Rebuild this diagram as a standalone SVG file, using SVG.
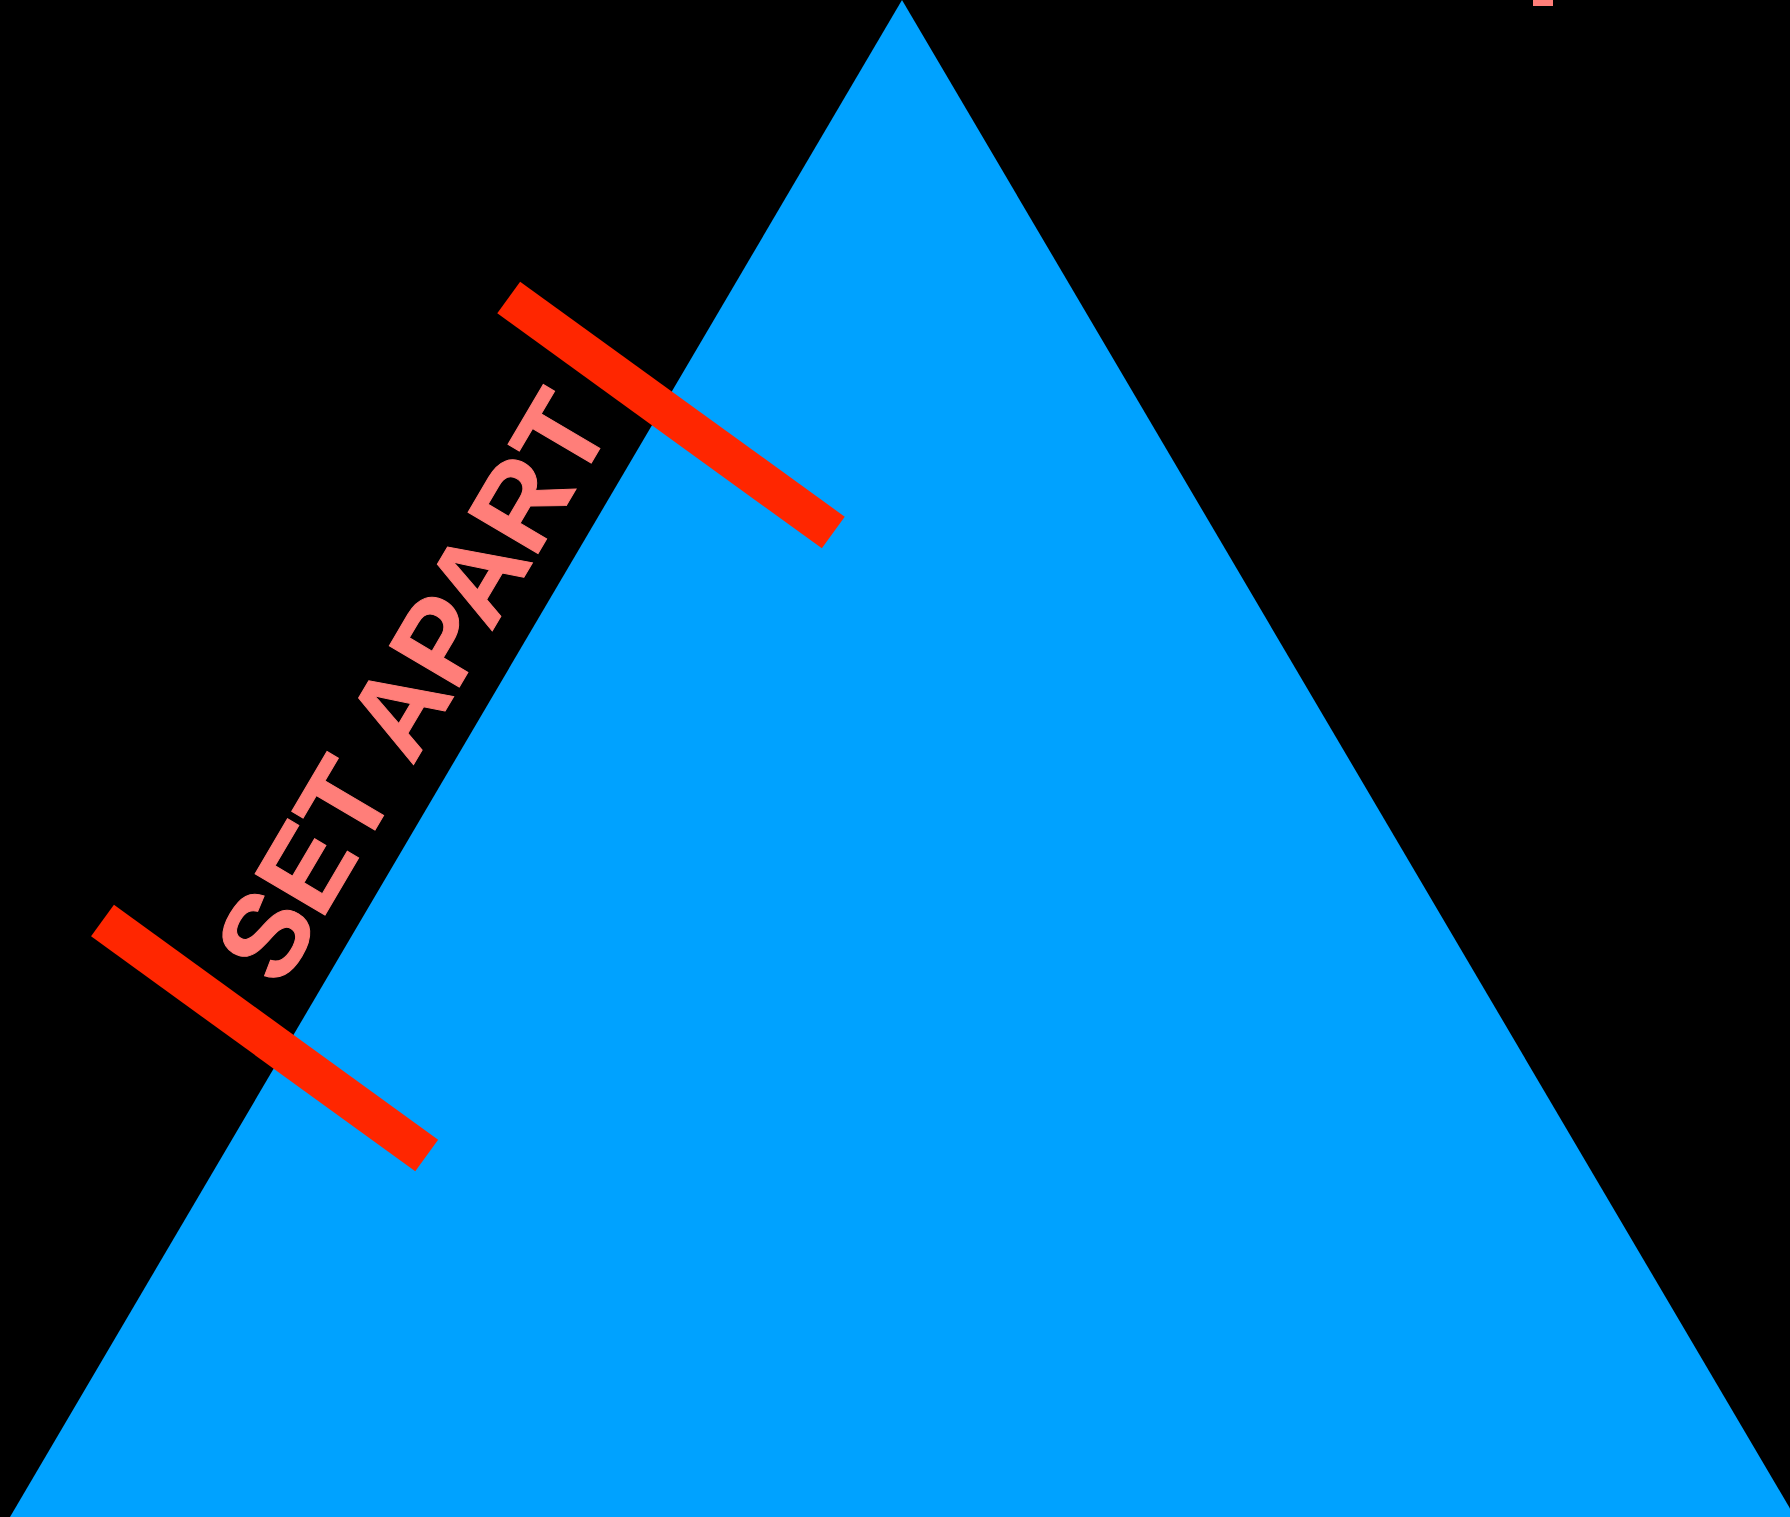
<svg xmlns="http://www.w3.org/2000/svg" width="1790" height="1517" viewBox="0 0 1790 1517">
  <style>
    .bar { stroke: #FF2600; stroke-width: 39; stroke-linecap: butt; fill: none; }
    .label { fill: #FF7E79; stroke: #FF7E79; stroke-width: 1; font-family: "Liberation Sans", Arial, sans-serif; font-weight: bold; font-size: 118px; }
  </style>
  <rect id="background" x="0" y="0" width="1790" height="1517" fill="#000000"/>
  <g id="triangle">
    <polygon points="902,0 10,1517 1795,1517" fill="#00A2FF"/>
  </g>
  <g id="bars">
    <line class="bar" x1="508.7" y1="297.5" x2="833.3" y2="532.5"/>
    <line class="bar" x1="102.5" y1="920.5" x2="426.7" y2="1155.5"/>
  </g>
  <g id="label-set-apart">
    <text class="label" transform="translate(281,989.5) rotate(-59.5)">SET APART</text>
  </g>
  <g id="corner-mark">
    <rect x="1533" y="0" width="20" height="6" fill="#FF7E79"/>
  </g>
</svg>
